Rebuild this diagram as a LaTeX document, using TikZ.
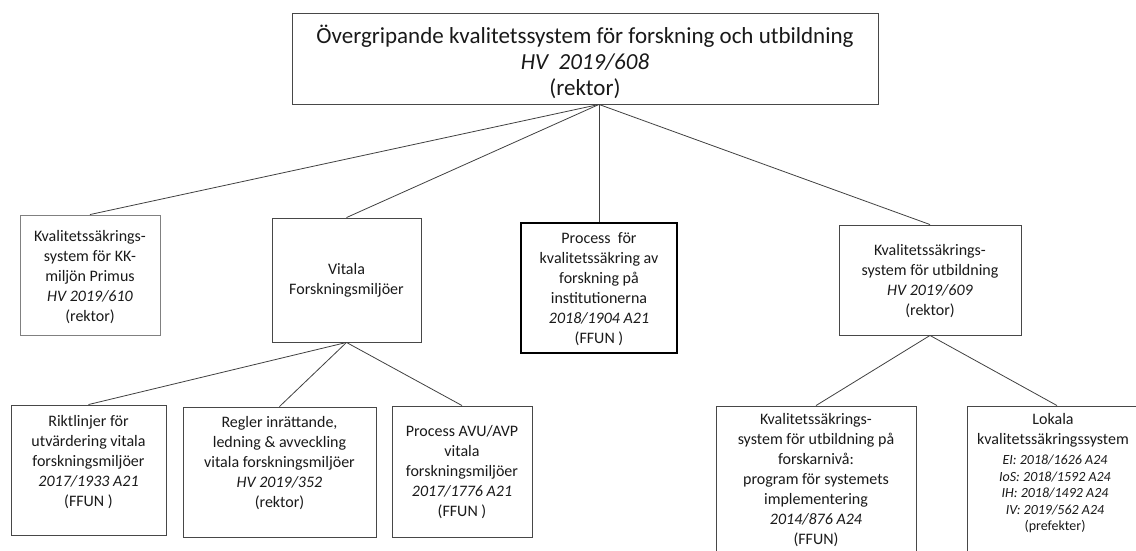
\documentclass[tikz,border=0pt]{standalone}
\usepackage{fontspec}
\setmainfont{Carlito}
\begin{document}
\begin{tikzpicture}[x=1pt,y=-1pt,
  box/.style={draw=black!72, line width=0.9pt, inner sep=0pt},
  boxlight/.style={draw=black!50, line width=0.9pt, inner sep=0pt},
  boxstrong/.style={draw=black, line width=1.3pt, inner sep=0pt},
  txt/.style={align=center, inner sep=0pt, text=black!90, font=\fontsize{16}{20}\selectfont},
  bigtxt/.style={align=center, inner sep=0pt, text=black!90, font=\fontsize{23}{26}\selectfont},
  conn/.style={draw=black!75, line width=0.8pt}]
\useasboundingbox (0,0) rectangle (1136,551);
\clip (0,0) rectangle (1136,551);
% boxes
\node[box, minimum width=586pt, minimum height=91pt] (top) at (585,58.5) {};
\node[boxlight, minimum width=140pt, minimum height=120pt] (b1) at (90,275) {};
\node[box, minimum width=149pt, minimum height=124pt] (b2) at (346.5,280) {};
\node[boxstrong, minimum width=156pt, minimum height=130pt] (b3) at (599,288) {};
\node[box, minimum width=182pt, minimum height=110pt] (b4) at (930,280) {};
\node[box, minimum width=155pt, minimum height=130pt] (b5) at (88.5,470) {};
\node[box, minimum width=193pt, minimum height=130pt] (b6) at (279.5,472) {};
\node[box, minimum width=140pt, minimum height=131pt] (b7) at (462,471.5) {};
\node[box, minimum width=200pt, minimum height=170pt] (b8) at (816,491) {};
\node[box, minimum width=180pt, minimum height=170pt] (b9) at (1057,491) {};
% texts
\node[bigtxt] (ttop) at (585,62) {Övergripande kvalitetssystem för forskning och utbildning\\\textit{HV\ \ 2019/608}\\(rektor)};
\node[txt] (t1) at (90,277) {Kvalitetssäkrings-\\system för KK-\\miljön Primus\\\textit{HV 2019/610}\\(rektor)};
\node[txt] (t2) at (346.5,280) {Vitala\\Forskningsmiljöer};
\node[txt] (t3) at (599,289) {Process\ \ för\\kvalitetssäkring av\\forskning på\\institutionerna\\\textit{2018/1904 A21}\\(FFUN )};
\node[txt] (t4) at (930,281) {Kvalitetssäkrings-\\system för utbildning\\\textit{HV 2019/609}\\(rektor)};
\node[txt] (t5) at (88.5,462) {Riktlinjer för\\utvärdering vitala\\forskningsmiljöer\\\textit{2017/1933 A21}\\(FFUN )};
\node[txt] (t6) at (279.5,463) {Regler inrättande,\\ledning \& avveckling\\vitala forskningsmiljöer\\\textit{HV 2019/352}\\(rektor)};
\node[txt] (t7) at (462,472) {Process AVU/AVP\\vitala\\forskningsmiljöer\\\textit{2017/1776 A21}\\(FFUN )};
\node[txt, anchor=north] (t8) at (816,413) {Kvalitetssäkrings-\\system för utbildning på\\forskarnivå:\\program för systemets\\implementering\\\textit{2014/876 A24}\\(FFUN)};
\node[txt, anchor=north] (t9a) at (1053,413) {Lokala\\kvalitetssäkringssystem};
\node[txt, anchor=north, font=\fontsize{14}{16.5}\selectfont] (t9b) at (1055,455) {\textit{EI: 2018/1626 A24}\\\textit{IoS: 2018/1592 A24}\\\textit{IH: 2018/1492 A24}\\\textit{IV: 2019/562 A24}\\(prefekter)};
% connectors
\coordinate (tp) at (b3.north |- top.south);
\draw[conn] (tp) -- (b1.north);
\draw[conn] (tp) -- (b2.north);
\draw[conn] (tp) -- (b3.north);
\draw[conn] (tp) -- (b4.north);
\draw[conn] (b2.south) -- (b5.north);
\draw[conn] (b2.south) -- (b6.north);
\draw[conn] (b2.south) -- (b7.north);
\draw[conn] (b4.south) -- (b8.north);
\draw[conn] (b4.south) -- (b9.north);
\end{tikzpicture}
\end{document}
